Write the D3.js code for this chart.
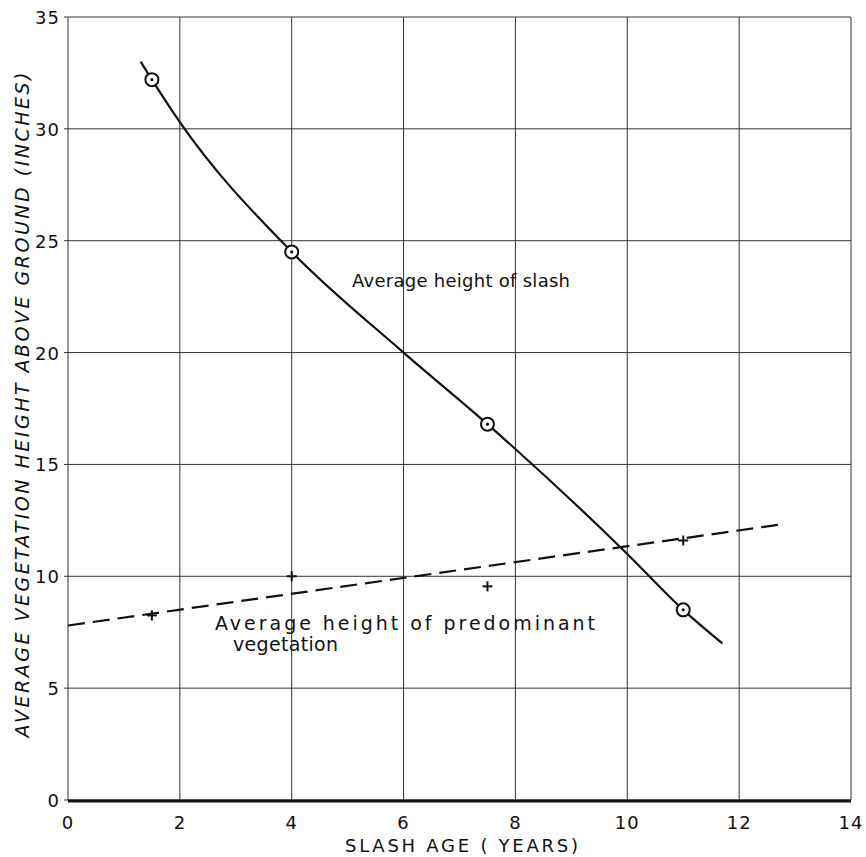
<!DOCTYPE html>
<html>
<head>
<meta charset="utf-8">
<script src="https://cdn.jsdelivr.net/npm/d3@7"></script>
<style>
  body { margin: 0; background: #fff; }
  svg { display: block; }
  text { font-family: "DejaVu Sans", sans-serif; fill: #111; }
</style>
</head>
<body>
<svg id="chart"></svg>
<script>
// data
const X_TICKS = [0, 2, 4, 6, 8, 10, 12, 14];
const Y_TICKS = [0, 5, 10, 15, 20, 25, 30, 35];

// slash: measured points and the hand-drawn curve through them
const slashPoints = [[1.5, 32.2], [4, 24.5], [7.5, 16.8], [11, 8.5]];
const slashCurve = [[1.3, 33.0], [1.5, 32.2], [2, 30.3], [4, 24.5], [6, 20.0], [7.5, 16.8], [10, 11.0], [11, 8.5], [11.7, 7.0]];

// predominant vegetation: measured points and fitted straight line
const vegPoints = [[1.5, 8.25], [4, 10.0], [7.5, 9.55], [11, 11.6]];
const vegLine = [[0, 7.8], [12.7, 12.3]];

const W = 866, H = 857;
const M = { left: 68, right: 15, top: 17, bottom: 57 };

const svg = d3.select('#chart').attr('width', W).attr('height', H);

const x = d3.scaleLinear().domain([0, 14]).range([M.left, W - M.right]);
const y = d3.scaleLinear().domain([0, 35]).range([H - M.bottom, M.top]);

// grid
svg.append('g').selectAll('line')
    .data(X_TICKS)
    .enter().append('line')
    .attr('x1', d => x(d)).attr('x2', d => x(d))
    .attr('y1', y(0)).attr('y2', y(35))
    .style('stroke', '#333').style('stroke-width', 1);

svg.append('g').selectAll('line')
    .data(Y_TICKS)
    .enter().append('line')
    .attr('x1', x(0) - 4).attr('x2', x(14))
    .attr('y1', d => y(d)).attr('y2', d => y(d))
    .style('stroke', '#333').style('stroke-width', 1);

// heavy base line
svg.append('line')
    .attr('x1', x(0)).attr('x2', x(14))
    .attr('y1', y(0) + 1).attr('y2', y(0) + 1)
    .style('stroke', '#111').style('stroke-width', 3);

// tick labels
svg.append('g').selectAll('text')
    .data(Y_TICKS)
    .enter().append('text')
    .attr('x', x(0) - 8)
    .attr('y', d => y(d) + 7)
    .style('text-anchor', 'end')
    .style('font-size', '18px')
    .style('letter-spacing', '1px')
    .text(d => d);

svg.append('g').selectAll('text')
    .data(X_TICKS)
    .enter().append('text')
    .attr('x', d => x(d))
    .attr('y', y(0) + 29)
    .style('text-anchor', 'middle')
    .style('font-size', '18px')
    .style('letter-spacing', '1px')
    .text(d => d);

// axis titles
svg.append('text')
    .attr('transform', `translate(29, 405) rotate(-90)`)
    .attr('textLength', 665).attr('lengthAdjust', 'spacing')
    .style('text-anchor', 'middle')
    .style('font-size', '19px')
    .style('font-style', 'italic')
    .text('AVERAGE  VEGETATION  HEIGHT  ABOVE  GROUND  (INCHES)');

svg.append('text')
    .attr('x', 345)
    .attr('y', y(0) + 52)
    .attr('textLength', 233).attr('lengthAdjust', 'spacing')
    .style('font-size', '18px')
    .text('SLASH  AGE  ( YEARS)');

// slash curve
svg.append('path')
    .datum(slashCurve)
    .attr('d', d3.line().x(d => x(d[0])).y(d => y(d[1])).curve(d3.curveMonotoneX))
    .style('fill', 'none').style('stroke', '#111').style('stroke-width', 2.2);

// vegetation dashed line
svg.append('path')
    .datum(vegLine)
    .attr('d', d3.line().x(d => x(d[0])).y(d => y(d[1])))
    .style('fill', 'none').style('stroke', '#111').style('stroke-width', 2.2)
    .style('stroke-dasharray', '17 8');

// circle markers
const circ = svg.append('g').selectAll('g')
    .data(slashPoints)
    .enter().append('g')
    .attr('transform', d => `translate(${x(d[0])},${y(d[1])})`);
circ.append('circle').attr('r', 6.5)
    .style('fill', '#fff').style('stroke', '#111').style('stroke-width', 2);
circ.append('circle').attr('r', 1.6).style('fill', '#111');

// plus markers
const plus = svg.append('g').selectAll('g')
    .data(vegPoints)
    .enter().append('g')
    .attr('transform', d => `translate(${x(d[0])},${y(d[1])})`);
plus.append('line').attr('x1', -5).attr('x2', 5)
    .style('stroke', '#111').style('stroke-width', 2);
plus.append('line').attr('y1', -5).attr('y2', 5)
    .style('stroke', '#111').style('stroke-width', 2);

// labels
svg.append('text')
    .attr('x', 352).attr('y', 287)
    .attr('textLength', 218).attr('lengthAdjust', 'spacing')
    .style('font-size', '18px')
    .text('Average  height  of  slash');

svg.append('text')
    .attr('x', 215).attr('y', 630)
    .attr('textLength', 380).attr('lengthAdjust', 'spacing')
    .style('font-size', '19px')
    .text('Average  height  of  predominant');

svg.append('text')
    .attr('x', 233).attr('y', 651)
    .attr('textLength', 105).attr('lengthAdjust', 'spacing')
    .style('font-size', '19px')
    .text('vegetation');
</script>
</body>
</html>
